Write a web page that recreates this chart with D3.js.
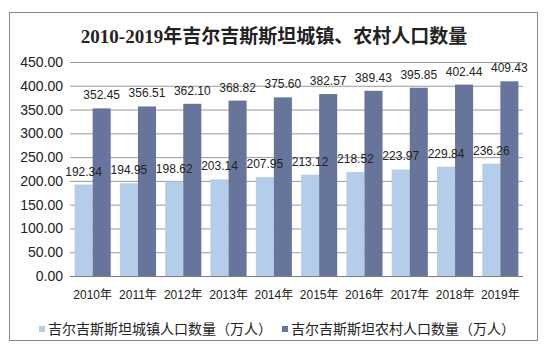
<!DOCTYPE html>
<html>
<head>
<meta charset="utf-8">
<script src="https://cdn.jsdelivr.net/npm/d3@7"></script>
<style>
  body { margin: 0; background: #fff; }
  svg { display: block; }
</style>
</head>
<body>
<div id="chart"></div>
<script>
// data
const years = ["2010年", "2011年", "2012年", "2013年", "2014年", "2015年", "2016年", "2017年", "2018年", "2019年"];
const urban = [192.34, 194.95, 198.62, 203.14, 207.95, 213.12, 218.52, 223.97, 229.84, 236.26];
const rural = [352.45, 356.51, 362.10, 368.82, 375.60, 382.57, 389.43, 395.85, 402.44, 409.43];
const yTicks = [0, 50, 100, 150, 200, 250, 300, 350, 400, 450];
const seriesNames = ["吉尔吉斯斯坦城镇人口数量（万人）", "吉尔吉斯斯坦农村人口数量（万人）"];
const colors = ["#b4cdea", "#67749b"];

const width = 546, height = 351;
const margin = { top: 62, right: 23, bottom: 75, left: 70 };

const svg = d3.select("#chart").append("svg")
    .attr("width", width)
    .attr("height", height);

// outer frame
svg.append("rect")
    .attr("x", 9.5).attr("y", 12.5)
    .attr("width", 528).attr("height", 328)
    .attr("fill", "none")
    .attr("stroke", "#8a8a8a");

svg.append("text")
    .attr("x", 274)
    .attr("y", 43)
    .attr("text-anchor", "middle")
    .style("font-family", "'Liberation Serif', 'DejaVu Serif', 'Noto Sans CJK SC', serif")
    .style("font-weight", "bold")
    .style("font-size", "19px")
    .attr("fill", "#222")
    .text("2010-2019年吉尔吉斯斯坦城镇、农村人口数量");

// group band holds both bars
let x0 = d3.scaleBand()
    .domain(years)
    .range([margin.left, width - margin.right]);
let inner = d3.scaleBand()
    .domain([0, 1])
    .range([0, x0.bandwidth()])
    .paddingOuter(0.255)
    .paddingInner(0);

let y = d3.scaleLinear()
    .domain([0, 450])
    .range([height - margin.bottom, margin.top]);

// gridlines
let yAxis = d3.axisLeft(y)
    .tickValues(yTicks)
    .tickSize(-(width - margin.left - margin.right))
    .tickPadding(7)
    .tickFormat(d3.format(".2f"));

let gy = svg.append("g")
    .attr("transform", `translate(${margin.left},0)`)
    .call(yAxis);
gy.select(".domain").remove();
gy.selectAll(".tick line")
    .attr("stroke", d => d === 0 ? "#7a7a7a" : "#9a9a9a")
    .attr("stroke-width", 1);
gy.selectAll(".tick text")
    .style("font-family", "Arial, 'Liberation Sans', sans-serif")
    .style("font-size", "14px")
    .attr("fill", "#222");

let gx = svg.append("g")
    .attr("transform", `translate(0,${height - margin.bottom})`)
    .call(d3.axisBottom(x0).tickSize(0).tickPadding(14));
gx.select(".domain").remove();
gx.selectAll(".tick text")
    .style("font-family", "Arial, 'Liberation Sans', 'Noto Sans CJK SC', sans-serif")
    .style("font-size", "12px")
    .attr("fill", "#222");

const series = [urban, rural];
const labelFont = "Arial, 'Liberation Sans', sans-serif";

let barLayer = svg.append("g");
let labelLayer = svg.append("g");

series.forEach((vals, i) => {
    barLayer.append("g").selectAll("rect")
        .data(vals)
        .enter()
        .append("rect")
        .attr("x", (d, j) => x0(years[j]) + inner(i))
        .attr("y", d => y(d))
        .attr("width", inner.bandwidth())
        .attr("height", d => y(0) - y(d))
        .attr("fill", colors[i]);

    labelLayer.append("g").selectAll("text")
        .data(vals)
        .enter()
        .append("text")
        .attr("x", (d, j) => x0(years[j]) + inner(i) + inner.bandwidth() / 2)
        .attr("y", d => y(d) - 9)
        .attr("text-anchor", "middle")
        .style("font-family", labelFont)
        .style("font-size", "12px")
        .attr("fill", "#222")
        .text(d => d.toFixed(2));
});

// legend
const legendX = [39, 282];
seriesNames.forEach((name, i) => {
    let lg = svg.append("g").attr("transform", `translate(${legendX[i]},326)`);
    lg.append("rect")
        .attr("width", 6).attr("height", 6)
        .attr("fill", colors[i]);
    lg.append("text")
        .attr("x", 9)
        .attr("y", 8)
        .style("font-family", "'Noto Sans CJK SC', sans-serif")
        .style("font-size", "14px")
        .attr("fill", "#222")
        .text(name);
});
</script>
</body>
</html>
